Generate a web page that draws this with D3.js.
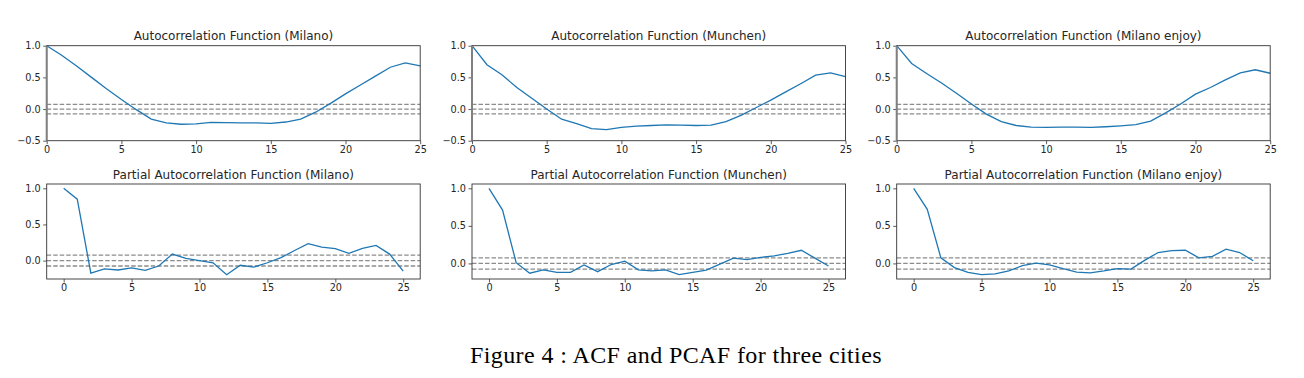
<!DOCTYPE html>
<html>
<head>
<meta charset="utf-8">
<script src="https://cdn.jsdelivr.net/npm/d3@7"></script>
<style>
  body { margin: 0; background: #fff; }
  svg { display: block; }
  .tick text { font-family: "DejaVu Sans", sans-serif; font-size: 9.7px; fill: #262626; }
  .title { font-family: "DejaVu Sans", sans-serif; font-size: 12px; fill: #262626; }
  .caption { font-family: "Liberation Serif", "Times New Roman", serif; font-size: 24px; letter-spacing: 0.4px; fill: #000; }
</style>
</head>
<body>
<svg id="chart" width="1304" height="378"></svg>
<script>
// lags 0..25
const lags = d3.range(0, 26);

// ACF values
const acfMilano = [1.0, 0.85, 0.68, 0.50, 0.32, 0.15, -0.01, -0.16, -0.22, -0.24, -0.235, -0.21, -0.215, -0.22, -0.22, -0.225, -0.205, -0.16, -0.05, 0.09, 0.24, 0.38, 0.52, 0.66, 0.73, 0.68];
const acfMunchen = [1.0, 0.70, 0.54, 0.34, 0.17, 0.0, -0.16, -0.23, -0.31, -0.325, -0.29, -0.27, -0.26, -0.25, -0.255, -0.26, -0.255, -0.2, -0.1, 0.02, 0.14, 0.27, 0.40, 0.535, 0.57, 0.51];
const acfEnjoy = [1.0, 0.72, 0.56, 0.41, 0.25, 0.08, -0.08, -0.2, -0.26, -0.285, -0.29, -0.285, -0.285, -0.29, -0.28, -0.265, -0.245, -0.19, -0.06, 0.08, 0.235, 0.34, 0.46, 0.57, 0.62, 0.565];

// PACF values
const pacfMilano = [1.0, 0.85, -0.175, -0.115, -0.13, -0.1, -0.135, -0.075, 0.09, 0.03, 0.0, -0.03, -0.195, -0.065, -0.09, -0.03, 0.04, 0.14, 0.235, 0.185, 0.165, 0.1, 0.17, 0.21, 0.09, -0.145];
const pacfMunchen = [1.0, 0.71, 0.01, -0.13, -0.085, -0.12, -0.12, -0.02, -0.11, -0.015, 0.03, -0.085, -0.1, -0.085, -0.15, -0.12, -0.09, -0.01, 0.07, 0.05, 0.08, 0.1, 0.135, 0.175, 0.07, -0.035];
const pacfEnjoy = [1.0, 0.72, 0.075, -0.055, -0.12, -0.15, -0.14, -0.1, -0.03, 0.005, -0.02, -0.07, -0.115, -0.125, -0.1, -0.07, -0.075, 0.04, 0.145, 0.17, 0.175, 0.075, 0.095, 0.19, 0.145, 0.035];

const confBand = 0.075;
const acfTitles = ["Autocorrelation Function (Milano)", "Autocorrelation Function (Munchen)", "Autocorrelation Function (Milano enjoy)"];
const pacfTitles = ["Partial Autocorrelation Function (Milano)", "Partial Autocorrelation Function (Munchen)", "Partial Autocorrelation Function (Milano enjoy)"];
const xTicks = [0, 5, 10, 15, 20, 25];
const acfYTicks = [-0.5, 0.0, 0.5, 1.0];
const pacfYTicks = [0.0, 0.5, 1.0];
const captionText = "Figure 4 : ACF and PCAF for three cities";

const svg = d3.select("#chart");
const lefts = [46.7, 472, 896.7];
const axW = 373.5, axH = 95;
const tops = [45.7, 184];
const fmt = d => d3.format(".1f")(d).replace("-", "\u2212");

function drawPanel(left, top, values, title, isAcf) {
    const g = svg.append("g").attr("transform", "translate(" + left + "," + top + ")");

    let xDomain, yDomain;
    if (isAcf) {
        xDomain = [0, 25];
        yDomain = [-0.5, 1.0];
    } else {
        xDomain = [-1.25, 26.25];
        const lo = d3.min(values), hi = d3.max(values), r = hi - lo;
        yDomain = [lo - 0.05 * r, hi + 0.05 * r];
    }
    const x = d3.scaleLinear().domain(xDomain).range([0, axW]);
    const y = d3.scaleLinear().domain(yDomain).range([axH, 0]);

    // dashed reference lines
    [confBand, 0, -confBand].forEach(v => {
        g.append("line")
            .attr("x1", 0).attr("x2", axW)
            .attr("y1", y(v)).attr("y2", y(v))
            .attr("stroke", "#8c8c8c")
            .attr("stroke-width", 1.3)
            .attr("stroke-dasharray", "4.5,2");
    });

    // series line
    const line = d3.line().x((d, i) => x(lags[i])).y(d => y(d));
    g.append("path")
        .datum(values)
        .attr("fill", "none")
        .attr("stroke", "#1f77b4")
        .attr("stroke-width", 1.3)
        .attr("d", line);

    // axes
    const xAxis = g.append("g")
        .attr("transform", "translate(0," + axH + ")")
        .call(d3.axisBottom(x).tickValues(xTicks).tickSize(3.5).tickPadding(2));
    const yAxis = g.append("g")
        .call(d3.axisLeft(y).tickValues(isAcf ? acfYTicks : pacfYTicks).tickFormat(fmt).tickSize(3.5).tickPadding(2.5));
    [xAxis, yAxis].forEach(a => {
        a.select(".domain").remove();
        a.selectAll(".tick line").attr("stroke", "#333").attr("stroke-width", 0.8);
    });

    // frame
    g.append("rect")
        .attr("width", axW).attr("height", axH)
        .attr("fill", "none")
        .attr("stroke", "#333")
        .attr("stroke-width", 0.9);

    if (isAcf) {
        // thick gray left edge seen in the top row
        g.append("line")
            .attr("x1", 0).attr("x2", 0)
            .attr("y1", 0).attr("y2", axH)
            .attr("stroke", "#808080")
            .attr("stroke-width", 2);
    }

    g.append("text")
        .attr("class", "title")
        .attr("x", axW / 2)
        .attr("y", -5.5)
        .attr("text-anchor", "middle")
        .text(title);
}

const acfs = [acfMilano, acfMunchen, acfEnjoy];
const pacfs = [pacfMilano, pacfMunchen, pacfEnjoy];
for (let i = 0; i < 3; i++) {
    drawPanel(lefts[i], tops[0], acfs[i], acfTitles[i], true);
    drawPanel(lefts[i], tops[1], pacfs[i], pacfTitles[i], false);
}

svg.append("text")
    .attr("class", "caption")
    .attr("x", 676)
    .attr("y", 363)
    .attr("text-anchor", "middle")
    .text(captionText);
</script>
</body>
</html>
